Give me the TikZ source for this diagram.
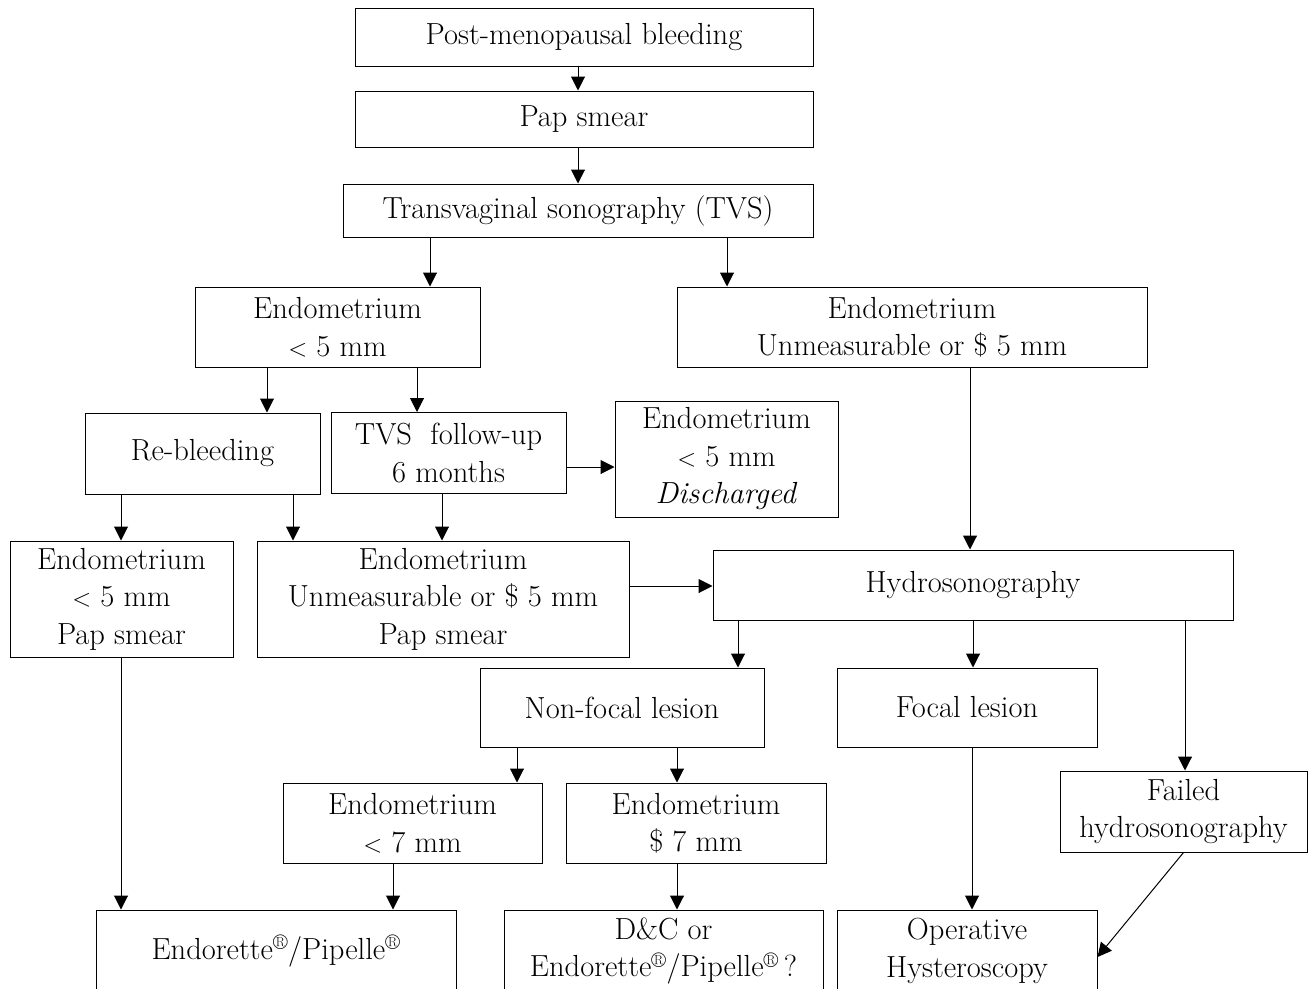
\documentclass[tikz,border=0pt]{standalone}
\usetikzlibrary{arrows.meta}
\begin{document}
\begin{tikzpicture}[x=1pt,y=-1pt,
  box/.style={draw=black, line width=1pt, align=center, inner sep=0pt,
    font=\fontsize{30.5}{37.5}\selectfont},
  arr/.style={line width=1pt, -{Triangle[length=14pt,width=14pt]}}]
\clip (0,0) rectangle (1313,988);
\fill[white] (0,0) rectangle (1313,988);
% nodes
\node[box, minimum width=458pt, minimum height=58pt] (post) at (584,37) {Post-menopausal bleeding};
\node[box, minimum width=458pt, minimum height=56pt] (pap) at (584,119) {Pap smear};
\node[box, minimum width=470pt, minimum height=53pt] (tvs) at (578,210.5) {Transvaginal sonography (TVS)};
\node[box, minimum width=285pt, minimum height=80pt] (e5) at (337.5,327) {Endometrium\\ $<$ 5 mm};
\node[box, minimum width=470pt, minimum height=80pt] (eu) at (912,327) {Endometrium\\ Unmeasurable or \$ 5 mm};
\node[box, minimum width=235pt, minimum height=81pt] (rb) at (202.5,453.5) {Re-bleeding};
\node[box, minimum width=235pt, minimum height=81pt] (fu) at (448.5,453) {TVS\ \ follow-up\\ 6 months};
\node[box, minimum width=223pt, minimum height=116pt] (dis) at (726.5,459) {Endometrium\\ $<$ 5 mm\\ \textit{Discharged}};
\node[box, minimum width=223pt, minimum height=116pt] (e5p) at (121.5,599) {Endometrium\\ $<$ 5 mm\\ Pap smear};
\node[box, minimum width=372pt, minimum height=116pt] (eup) at (443,599) {Endometrium\\ Unmeasurable or \$ 5 mm\\ Pap smear};
\node[box, minimum width=520pt, minimum height=70pt] (hy) at (973,585) {Hydrosonography};
\node[box, minimum width=284pt, minimum height=79pt] (nf) at (622,707.5) {Non-focal lesion};
\node[box, minimum width=260pt, minimum height=79pt] (fl) at (967,707.5) {Focal lesion};
\node[box, minimum width=247pt, minimum height=81pt] (fh) at (1183.5,811.5) {Failed\\ hydrosonography};
\node[box, minimum width=259pt, minimum height=80pt] (e7) at (412.5,823) {Endometrium\\ $<$ 7 mm};
\node[box, minimum width=260pt, minimum height=80pt] (g7) at (696,823) {Endometrium\\ \$ 7 mm};
\node[box, minimum width=360pt, minimum height=82pt] (endo) at (276,951) {Endorette\textsuperscript{\textregistered}/Pipelle\textsuperscript{\textregistered}};
\node[box, minimum width=319pt, minimum height=82pt] (dc) at (663.5,951) {D\&C or\\ Endorette\textsuperscript{\textregistered}/Pipelle\textsuperscript{\textregistered}\,?};
\node[box, minimum width=260pt, minimum height=82pt] (oh) at (967,951) {Operative\\ Hysteroscopy};
% connectors
\draw[arr] (post.south -| 578,0) -- (pap.north -| 578,0);
\draw[arr] (pap.south -| 578,0) -- (tvs.north -| 578,0);
\draw[arr] (tvs.south -| 430,0) -- (e5.north -| 430,0);
\draw[arr] (tvs.south -| 727,0) -- (eu.north -| 727,0);
\draw[arr] (e5.south -| 267,0) -- (rb.north -| 267,0);
\draw[arr] (e5.south -| 417,0) -- (fu.north -| 417,0);
\draw[arr] (fu.east |- 0,467) -- (dis.west |- 0,467);
\draw[arr] (rb.south -| 121,0) -- (e5p.north -| 121,0);
\draw[arr] (rb.south -| 293,0) -- (eup.north -| 293,0);
\draw[arr] (fu.south -| 442,0) -- (eup.north -| 442,0);
\draw[arr] (eu.south -| 970,0) -- (hy.north -| 970,0);
\draw[arr] (eup.east |- 0,586) -- (hy.west |- 0,586);
\draw[arr] (hy.south -| 738,0) -- (nf.north -| 738,0);
\draw[arr] (hy.south -| 973,0) -- (fl.north -| 973,0);
\draw[arr] (hy.south -| 1185,0) -- (fh.north -| 1185,0);
\draw[arr] (nf.south -| 517,0) -- (e7.north -| 517,0);
\draw[arr] (nf.south -| 677,0) -- (g7.north -| 677,0);
\draw[arr] (e5p.south -| 121,0) -- (endo.north -| 121,0);
\draw[arr] (e7.south -| 393,0) -- (endo.north -| 393,0);
\draw[arr] (g7.south -| 677,0) -- (dc.north -| 677,0);
\draw[arr] (fl.south -| 972,0) -- (oh.north -| 972,0);
\draw[arr] (fh.south) -- ([yshift=-6pt]oh.east);
\end{tikzpicture}
\end{document}
